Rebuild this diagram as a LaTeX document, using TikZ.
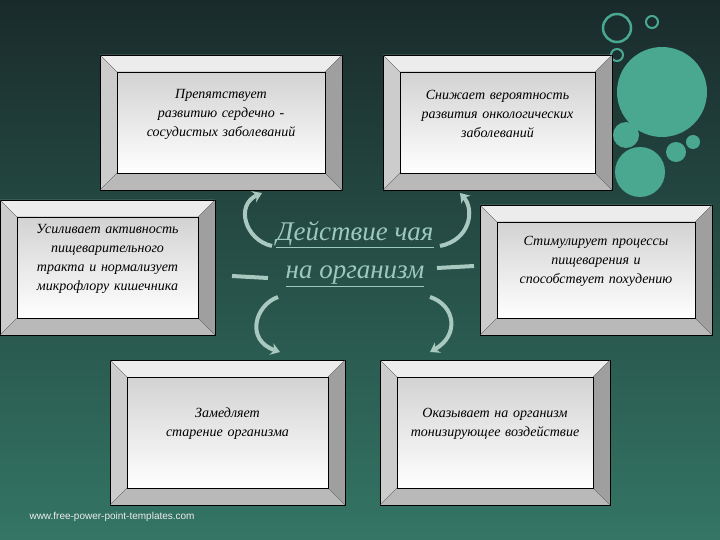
\documentclass[tikz,border=0pt]{standalone}
\usepackage{fontspec}
\setmainfont{Liberation Serif}
\setsansfont{Liberation Sans}
\usetikzlibrary{arrows.meta}
\definecolor{tealc}{HTML}{4AA890}
\definecolor{arrowc}{HTML}{A9C8C0}
\definecolor{titlec}{HTML}{9CC9BE}
\tikzset{
  bev/.style={draw=black,line width=0.5pt},
  facefill/.style={draw=black,line width=0.4pt,top color=gray!35,bottom color=white},
  facetext/.style={text width=#1,align=center,font=\itshape\fontsize{14}{19}\selectfont,inner sep=0pt},
  cur/.style={line width=4pt,arrowc,-{Stealth[length=9pt,width=12pt]}},
  curl/.style={line width=4pt,arrowc},
}
\newcommand{\bevbox}[8]{% name x1 y1 x2 y2 inset textwidth text
  \fill[gray!15] (#2,#3)--(#4,#3)--(#4-#6,#3+#6)--(#2+#6,#3+#6)--cycle;
  \fill[gray!40] (#2,#3)--(#2+#6,#3+#6)--(#2+#6,#5-#6)--(#2,#5)--cycle;
  \fill[gray!75] (#4,#3)--(#4,#5)--(#4-#6,#5-#6)--(#4-#6,#3+#6)--cycle;
  \fill[gray!55] (#2,#5)--(#4,#5)--(#4-#6,#5-#6)--(#2+#6,#5-#6)--cycle;
  \draw[bev] (#2,#3) rectangle (#4,#5);
  \draw[gray!60!black,line width=0.3pt] (#2,#3)--(#2+#6,#3+#6) (#4,#3)--(#4-#6,#3+#6) (#2,#5)--(#2+#6,#5-#6) (#4,#5)--(#4-#6,#5-#6);
  \path[facefill] (#2+#6,#3+#6) rectangle (#4-#6,#5-#6);
  \node[facetext=#7] (#1) at ({(#2+#4)/2},{(#3+#5)/2-#6/2}) {#8};
}
\begin{document}
\begin{tikzpicture}[x=1pt,y=-1pt]
\useasboundingbox (0,0) rectangle (720,540);
\shade[top color=black!85!teal!90,bottom color=tealc!70!black] (0,0) rectangle (720,540);
% circles
\draw[tealc,line width=2.5pt] (617,28) circle (14);
\draw[tealc,line width=2pt] (652,22) circle (6);
\draw[tealc,line width=2pt] (617,55) circle (6);
\fill[tealc] (662,92) circle (45);
\fill[tealc] (626,135) circle (13);
\fill[tealc] (676,152) circle (10);
\fill[tealc] (693,142) circle (7);
\fill[tealc] (640,172) circle (25);
% boxes
\bevbox{b1}{100}{55}{342}{190}{17}{195pt}{Препятствует развитию сердечно - сосудистых заболеваний}
\bevbox{b2}{383}{55}{612}{190}{17}{190pt}{Снижает вероятность развития онкологических заболеваний}
\bevbox{b3}{0}{200}{215}{335}{17}{200pt}{Усиливает активность пищеварительного тракта и нормализует микрофлору кишечника}
\bevbox{b4}{480}{205}{712}{335}{17}{200pt}{Стимулирует процессы пищеварения и способствует похудению}
\bevbox{b5}{110}{360}{345}{505}{17}{160pt}{Замедляет старение организма}
\bevbox{b6}{380}{360}{610}{505}{17}{200pt}{Оказывает на организм тонизирующее воздействие}
% title
\node[align=center,text=titlec,font=\itshape\fontsize{27}{38}\selectfont] (t) at (355,254)
  {\underline{Действие чая}\\\underline{на организм}};
% arrows
\coordinate (a1) at (272,246);
\draw[cur] (a1) .. controls (245,240) and (235,205) .. (262,193);
\coordinate (a2) at (440,246);
\draw[cur] (a2) .. controls (470,240) and (475,210) .. (460,193);
\coordinate (a3) at (278,297);
\draw[cur] (a3) .. controls (255,305) and (245,340) .. (280,352);
\coordinate (a4) at (430,297);
\draw[cur] (a4) .. controls (455,305) and (460,335) .. (430,352);
\coordinate (l1a) at (232,276); \coordinate (l1b) at (268,278);
\draw[curl] (l1a) -- (l1b);
\coordinate (l2a) at (437,268); \coordinate (l2b) at (474,266);
\draw[curl] (l2a) -- (l2b);
% footer
\node[anchor=west,text=white!85!gray,font=\sffamily\fontsize{10}{12}\selectfont] (f) at (26,517) {www.free-power-point-templates.com};
\end{tikzpicture}
\end{document}
